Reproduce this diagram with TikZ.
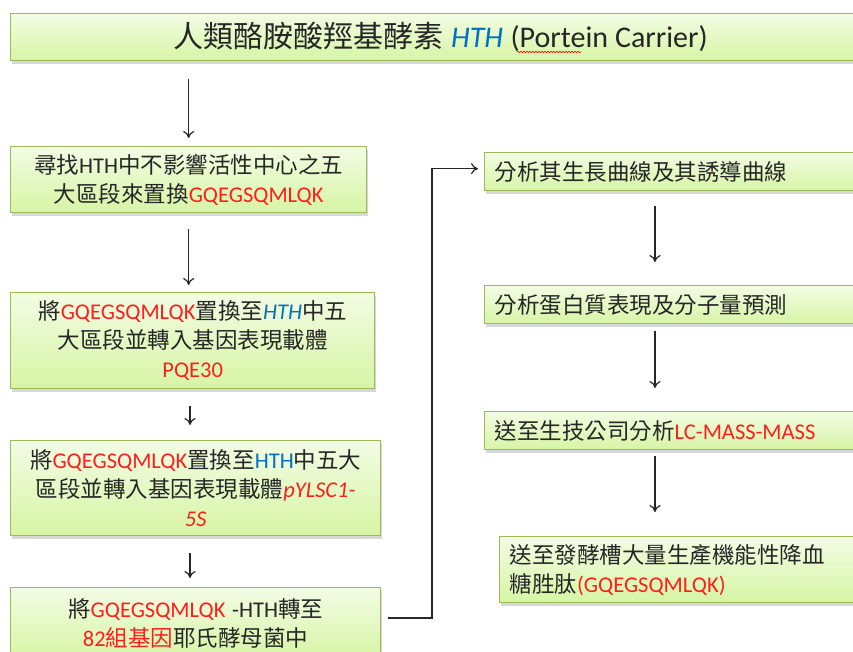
\documentclass[tikz,border=0pt]{standalone}
\usepackage{fontspec}
\setmainfont{Noto Sans CJK TC}
\newfontfamily\lat{Carlito}
\usetikzlibrary{shadows,decorations.pathmorphing,arrows.meta,calc}
\definecolor{txtred}{RGB}{255,30,30}
\definecolor{txtblue}{RGB}{0,112,192}
\definecolor{txtdark}{RGB}{38,38,38}
\definecolor{boxedge}{RGB}{155,187,89}
\definecolor{filltop}{RGB}{243,252,228}
\definecolor{fillbot}{RGB}{214,245,164}
\newcommand\Lr[1]{{\lat\color{txtred}#1}}
\newcommand\Lb[1]{{\lat\color{txtblue}#1}}
\tikzset{
  box/.style={draw=boxedge, line width=1.3pt, top color=filltop, bottom color=fillbot,
    drop shadow={shadow xshift=1.5pt, shadow yshift=-3pt, opacity=0.3},
    inner xsep=5pt, inner ysep=0pt, anchor=north west, text=txtdark,
    font=\fontsize{22.5}{29}\selectfont},
  lbox/.style={box, align=center},
  rbox/.style={box, align=left, inner xsep=10pt},
  arr/.style={-{To[length=7pt,width=11pt]}, line width=1.2pt, draw=txtdark},
}
\begin{document}
\begin{tikzpicture}[x=1pt,y=-1pt]
\useasboundingbox (0,0) rectangle (853,652);
\clip (0,0) rectangle (853,652);
\fill[white] (0,0) rectangle (853,652);

\node[box, align=center, minimum width=860pt, minimum height=47pt, text width=850pt,
  font=\fontsize{30}{36}\selectfont] (T) at (10,13)
  {人類酪胺酸羥基酵素{\lat\hspace{0.25em}\textcolor{txtblue}{\textit{HTH}}\hspace{0.25em}(Portein\hspace{0.23em}Carrier)}};
\draw[red, line width=0.6pt, decorate, decoration={snake, amplitude=0.8pt, segment length=3pt}] (517,52) -- (581,52);

\node[lbox, minimum width=356pt, minimum height=66pt, text width=346pt] (B1) at (10,146)
  {尋找{\lat HTH}中不影響活性中心之五\\大區段來置換\Lr{GQEGSQMLQK}};
\node[lbox, minimum width=364pt, minimum height=96pt, text width=354pt] (B2) at (10,292)
  {將\Lr{GQEGSQMLQK}置換至\Lb{\itshape HTH}中五\\大區段並轉入基因表現載體\\\Lr{PQE30}};
\node[lbox, minimum width=370pt, minimum height=95pt, text width=360pt] (B3) at (10,440)
  {將\Lr{GQEGSQMLQK}置換至\Lb{HTH}中五大\\區段並轉入基因表現載體\Lr{\itshape pYLSC1-}\\\Lr{\itshape 5S}};
\node[lbox, minimum width=370pt, minimum height=72pt, text width=360pt] (B4) at (10,587)
  {將\Lr{GQEGSQMLQK}{\lat\hspace{0.3em}-HTH}轉至\\{\color{txtred}{\lat 82}組基因}耶氏酵母菌中};

\node[rbox, minimum width=386pt, minimum height=38pt, text width=366pt] (R1) at (484,152)
  {分析其生長曲線及其誘導曲線};
\node[rbox, minimum width=386pt, minimum height=38pt, text width=366pt] (R2) at (484,285)
  {分析蛋白質表現及分子量預測};
\node[rbox, minimum width=386pt, minimum height=38pt, text width=366pt] (R3) at (484,411)
  {送至生技公司分析\Lr{LC-MASS-MASS}};
\node[rbox, minimum width=371pt, minimum height=66pt, text width=351pt] (R4) at (499,536)
  {送至發酵槽大量生產機能性降血\\糖胜肽\Lr{(GQEGSQMLQK)}};

\coordinate (lx) at (190,0);
\coordinate (rx) at (655,0);
\coordinate (jx) at (432,0);
\draw[arr, shorten <=18pt, shorten >=8pt] (T.south -| B1.north) -- (B1.north);
\draw[arr, shorten <=16pt, shorten >=7pt] (B1.south) -- (B1.south |- B2.north);
\draw[arr, shorten <=17pt, shorten >=15pt] (B2.south -| lx) -- (B3.north -| lx);
\draw[arr, shorten <=17pt, shorten >=9pt] (B3.south -| lx) -- (B4.north -| lx);
\draw[arr, shorten <=15pt, shorten >=23pt] (R1.south -| rx) -- (R2.north -| rx);
\draw[arr, shorten <=7pt, shorten >=23pt] (R2.south -| rx) -- (R3.north -| rx);
\draw[arr, shorten <=6pt, shorten >=24pt] (R3.south -| rx) -- (R4.north -| rx);
\coordinate (k0) at ($(B4.north east)+(7,31)$);
\draw[arr] (k0) -- (k0 -| jx) |- ([xshift=-6pt,yshift=3pt]R1.west);
\end{tikzpicture}
\end{document}
